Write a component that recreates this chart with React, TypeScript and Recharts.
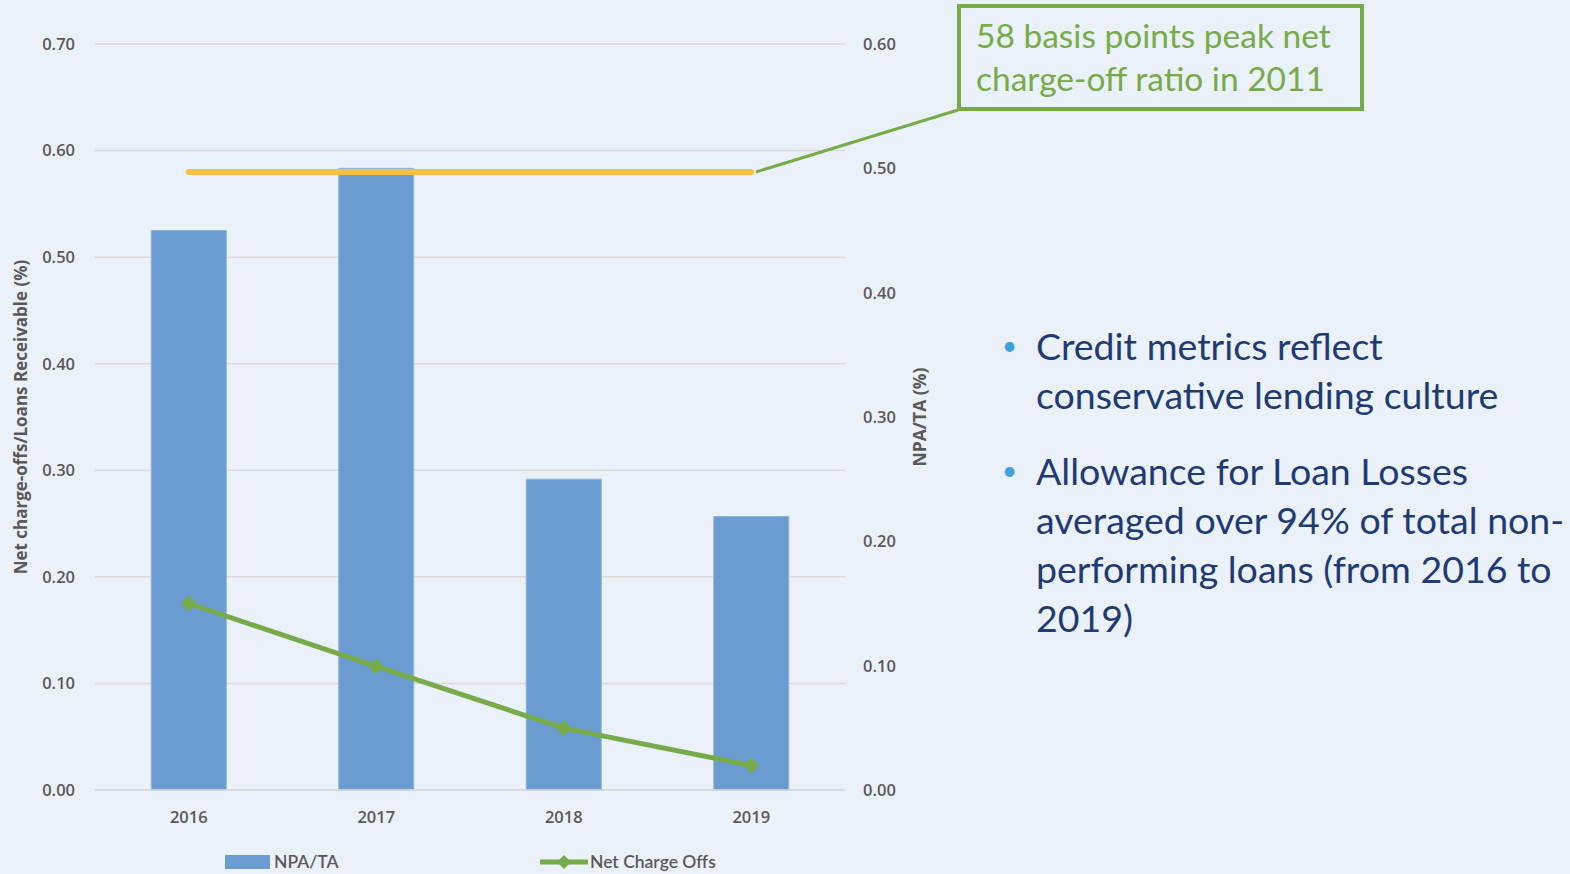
import {
  ComposedChart,
  Bar,
  Line,
  XAxis,
  YAxis,
  CartesianGrid,
  ReferenceLine,
} from 'recharts'

const years = ['2016', '2017', '2018', '2019']
const npaTa = [0.45, 0.5, 0.25, 0.22]
const netChargeOffs = [0.175, 0.116, 0.058, 0.023]
const peakChargeOff = 0.58
const leftTicks = [0, 0.1, 0.2, 0.3, 0.4, 0.5, 0.6, 0.7]
const rightTicks = [0, 0.1, 0.2, 0.3, 0.4, 0.5, 0.6]

const data = years.map((year, i) => ({
  year,
  npa: npaTa[i],
  nco: netChargeOffs[i],
}))

const BG = '#EBF1F9'
const BLUE = '#6A9BD1'
const GREEN = '#77AB4A'
const YELLOW = '#F6C042'
const NAVY = '#1F3B73'
const AXIS_TEXT = '#595959'
const FONT = '"Open Sans", "Liberation Sans", sans-serif'

const Diamond = (props: any) => {
  const { cx, cy } = props
  if (cx == null || cy == null) return null
  const r = 8
  return (
    <path
      d={`M${cx},${cy - r} L${cx + r},${cy} L${cx},${cy + r} L${cx - r},${cy} Z`}
      fill={GREEN}
    />
  )
}

const fmt = (v: number) => v.toFixed(2)

export default function App() {
  return (
    <div
      style={{
        position: 'absolute',
        left: 0,
        top: 0,
        width: 1570,
        height: 874,
        background: BG,
        overflow: 'hidden',
        fontFamily: FONT,
      }}
    >
      <ComposedChart
        width={1570}
        height={874}
        data={data}
        margin={{ top: 44, right: 645, left: 0, bottom: 54 }}
        barCategoryGap="30%"
      >
        <CartesianGrid yAxisId="left" vertical={false} stroke="#D9D9D9" strokeWidth={1.5} />
        <XAxis
          dataKey="year"
          height={30}
          tickLine={false}
          axisLine={{ stroke: '#D9D9D9', strokeWidth: 1.5 }}
          tickMargin={15}
          tick={{ fill: AXIS_TEXT, fontSize: 16.5, fontWeight: 600, fontFamily: FONT }}
        />
        <YAxis
          yAxisId="left"
          width={95}
          domain={[0, 0.7]}
          ticks={leftTicks}
          tickFormatter={fmt}
          axisLine={false}
          tickLine={false}
          tickSize={0}
          tickMargin={20}
          tick={{ fill: AXIS_TEXT, fontSize: 16.5, fontWeight: 600, fontFamily: FONT }}
          label={{
            value: 'Net charge-offs/Loans Receivable (%)',
            angle: -90,
            position: 'center',
            dx: -27,
            style: { fill: AXIS_TEXT, fontSize: 17, fontWeight: 700, fontFamily: FONT },
          }}
        />
        <YAxis
          yAxisId="right"
          orientation="right"
          width={80}
          domain={[0, 0.6]}
          ticks={rightTicks}
          tickFormatter={fmt}
          axisLine={false}
          tickLine={false}
          tickSize={0}
          tickMargin={18}
          tick={{ fill: AXIS_TEXT, fontSize: 16.5, fontWeight: 600, fontFamily: FONT, textAnchor: 'start' }}
          label={{
            value: 'NPA/TA (%)',
            angle: -90,
            position: 'center',
            dx: 35,
            style: { fill: AXIS_TEXT, fontSize: 17.5, fontWeight: 700, fontFamily: FONT },
          }}
        />
        <Bar
          yAxisId="right"
          dataKey="npa"
          name="NPA/TA"
          fill={BLUE}
          stroke="#8CB3DE"
          strokeWidth={1}
          isAnimationActive={false}
        />
        <Line
          yAxisId="left"
          dataKey="nco"
          name="Net Charge Offs"
          stroke={GREEN}
          strokeWidth={5}
          dot={<Diamond />}
          activeDot={false}
          isAnimationActive={false}
        />
        <ReferenceLine
          yAxisId="left"
          segment={[
            { x: years[0], y: peakChargeOff },
            { x: years[years.length - 1], y: peakChargeOff },
          ]}
          stroke={YELLOW}
          strokeWidth={6}
          strokeLinecap="round"
        />
      </ComposedChart>

      {/* legend */}
      <div
        style={{
          position: 'absolute',
          top: 851,
          left: 225,
          display: 'flex',
          alignItems: 'center',
          fontSize: 17.5,
          color: AXIS_TEXT,
          fontWeight: 600,
          fontFamily: 'Lato, sans-serif',
        }}
      >
        <span style={{ display: 'inline-block', width: 45, height: 14, background: BLUE, marginRight: 4 }} />
        <span>NPA/TA</span>
      </div>
      <div
        style={{
          position: 'absolute',
          top: 851,
          left: 540,
          display: 'flex',
          alignItems: 'center',
          fontSize: 17.5,
          color: AXIS_TEXT,
          fontWeight: 600,
          fontFamily: 'Lato, sans-serif',
        }}
      >
        <svg width={50} height={16}>
          <line x1={0} y1={8} x2={48} y2={8} stroke={GREEN} strokeWidth={5} />
          <path d="M24,1 L31,8 L24,15 L17,8 Z" fill={GREEN} />
        </svg>
        <span>Net Charge Offs</span>
      </div>

      {/* callout */}
      <svg style={{ position: 'absolute', left: 0, top: 0 }} width={1570} height={874} pointerEvents="none">
        <line x1={756} y1={172} x2={958} y2={110} stroke={GREEN} strokeWidth={3} />
        <rect x={959} y={6} width={403} height={103} fill="none" stroke={GREEN} strokeWidth={4} />
      </svg>
      <div
        style={{
          position: 'absolute',
          left: 976,
          top: 14,
          color: GREEN,
          fontSize: 33.5,
          lineHeight: '43px',
          fontFamily: 'Lato, sans-serif',
        }}
      >
        58 basis points peak net
        <br />
        charge-off ratio in 2011
      </div>

      {/* bullets */}
      <div
        style={{
          position: 'absolute',
          left: 1002,
          top: 321,
          color: NAVY,
          fontSize: 37.5,
          lineHeight: '49px',
          fontFamily: 'Lato, sans-serif',
        }}
      >
        {[
          ['Credit metrics reflect', 'conservative lending culture'],
          ['Allowance for Loan Losses', 'averaged over 94% of total non-', 'performing loans (from 2016 to', '2019)'],
        ].map((lines, i) => (
          <div key={i} style={{ display: 'flex', marginBottom: 27 }}>
            <span style={{ color: '#3FA0E0', width: 34, fontSize: 26 }}>•</span>
            <div style={{ whiteSpace: 'nowrap' }}>
              {lines.map((l, j) => (
                <div key={j}>{l}</div>
              ))}
            </div>
          </div>
        ))}
      </div>
    </div>
  )
}
